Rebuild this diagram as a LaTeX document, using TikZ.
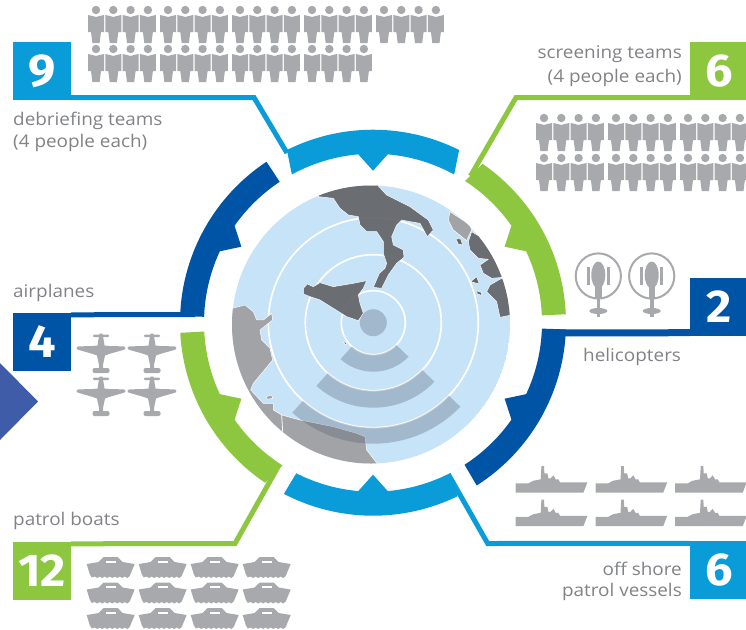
\documentclass[tikz,border=0pt]{standalone}
\usepackage{fontspec}
\setmainfont[FakeStretch=1.08]{Open Sans}
\newfontfamily\numfont[FakeStretch=1.06]{Fira Sans}
\definecolor{lblue}{HTML}{0A9BD9}
\definecolor{dblue}{HTML}{0054A6}
\definecolor{lgreen}{HTML}{8DC63F}
\definecolor{icon}{HTML}{A7A9AC}
\definecolor{txt}{HTML}{808285}
\definecolor{sea}{HTML}{C7E3F7}
\definecolor{landd}{HTML}{646568}
\definecolor{landl}{HTML}{A2A3A6}
\definecolor{rip}{RGB}{76,87,110}
\definecolor{wedge}{HTML}{3F5CA8}
\tikzset{
 numbox/.style={minimum width=58pt,minimum height=58pt,inner sep=0pt,text=white,font=\numfont\bfseries\fontsize{46}{46}\selectfont},
 lbl/.style={inner sep=0pt,text=txt,font=\fontsize{17.5}{20}\selectfont},
 lead/.style={line width=5pt,line join=miter},
 person/.pic={
  \fill[icon] (0,0) circle (4.2);
  \fill[icon] (-8,5)--(-3.5,6)--(0,7)--(3.5,6)--(8,5)--(8,22)--(5,22)--(3.6,33)--(-3.6,33)--(-5,22)--(-8,22)--cycle;
 },
 plane/.pic={
  \fill[icon,rounded corners=1pt] (-8,1.5) rectangle (8,4.2);
  \fill[icon] (-1.5,0.5) -- (1.5,0.5) -- (3,9) -- (3.5,12.5) .. controls (10,13.5) and (18,13) .. (23,13.5) .. controls (25,14) and (25,15.5) .. (23.5,16.5) .. controls (16,19) and (10,20) .. (4,22.5) -- (2,32) -- (2,36) -- (-2,36) -- (-2,32) -- (-4,22.5) .. controls (-10,20) and (-16,19) .. (-23.5,16.5) .. controls (-25,15.5) and (-25,14) .. (-23,13.5) .. controls (-18,13) and (-10,13.5) .. (-3.5,12.5) -- (-3,9) -- cycle;
  \fill[icon,rounded corners=2pt] (-8.5,35) rectangle (8.5,40);
 },
 heli/.pic={
  \draw[icon,line width=2pt] (0,0) circle (22.6);
  \fill[icon] (0,-1) ellipse (7 and 13.5);
  \fill[icon] (-3.2,8) rectangle (3.2,22);
  \fill[icon] (-1.8,20) rectangle (1.8,41);
  \fill[icon] (-11.3,-9) rectangle (-8.3,9);
  \fill[icon] (8.3,-9) rectangle (11.3,9);
  \fill[icon] (0,35) ellipse (9 and 3);
 },
 ship/.pic={
  \fill[icon] (0,17.3)--(0,26.7)--(67.7,26.7)--(71.7,16.3)--(44.3,16.3)--(42.7,13.3)--(40,13.3)--(37.7,9.3)--(35,12.3)--(32.7,12.3)--(31.7,7.3)--(28.7,7.3)--(28.3,0)--(25.7,0)--(25,13.3)--(17.7,14.7)--(12.7,17.3)--cycle;
 },
 boat/.pic={
  \fill[icon] (0,7)--(12,5)--(17,0)--(31,0)--(36,5)--(48,7)--(43,19)--(40.5,21)--(38,19.5)--(35.5,21)--(33,19.5)--(30.5,21)--(28,19.5)--(25.5,21)--(23,19.5)--(20.5,21)--(18,19.5)--(15.5,21)--(13,19.5)--(10.5,21)--(8,19.5)--(5,20.5)--(3,17)--cycle;
  \fill[white] (19,3.5) rectangle (29.5,5.5);
 },
}
% outer start, outer end, inner start, inner end, tooth, colour
\newcommand{\arcseg}[6]{%
 \fill[#6] (#1:193) arc[start angle=#1,end angle=#2,radius=193] -- (#4:169)
  arc[start angle=#4,end angle=#5+5,radius=169] -- (#5:152) -- (#5-5:169)
  arc[start angle=#5-5,end angle=#3,radius=169] -- cycle;}
\newcommand{\ripple}[2]{%
 \fill[rip,fill opacity=.3] (228:#2) arc[start angle=228,end angle=316,radius=#2] -- (316:#1)
  arc[start angle=316,end angle=228,radius=#1] -- cycle;}
\begin{document}
\begin{tikzpicture}[x=1pt,y=-1pt]
\useasboundingbox (0,0) rectangle (746,629);
\fill[wedge] (0,363) -- (38,401.5) -- (0,440) -- cycle;

% globe
\begin{scope}
 \clip (371,324.5) circle (139);
 \fill[sea] (371,324.5) circle (139);
 \foreach \r in {32,68,105} \draw[white,line width=1.7pt] (373.3,322.7) circle (\r);
 \begin{scope}[shift={(220,170)},x=0.3333pt,y=-0.3333pt]
  \begin{scope}[line width=.5pt,line join=round]
  % Italy
  \filldraw[fill=landd,draw=white,fill opacity=.93] (295,80)--(340,85)--(360,115)--(385,135)--(415,140)--(420,165)--(440,185)--(470,185)--(490,215)--(490,250)--(500,280)--(495,295)--(478,310)--(460,352)--(485,355)--(505,315)--(530,280)--(552,262)--(550,240)--(520,225)--(515,200)--(530,165)--(545,150)--(570,155)--(600,160)--(622,200)--(640,180)--(625,150)--(570,110)--(500,75)--(475,48)--(470,20)--(300,20)--cycle;
  % Sicily
  \filldraw[fill=landd,draw=white,fill opacity=.93] (250,355)--(262,342)--(280,350)--(300,338)--(340,350)--(400,340)--(440,332)--(430,355)--(415,375)--(420,400)--(430,430)--(415,452)--(380,440)--(340,415)--(300,390)--(270,380)--(250,372)--cycle;
  % Balkans
  \filldraw[fill=landd,draw=white,fill opacity=.93] (755,185)--(745,215)--(750,240)--(775,265)--(805,268)--(780,285)--(790,310)--(815,325)--(850,322)--(810,345)--(800,365)--(830,395)--(840,442)--(900,430)--(900,300)--(830,230)--cycle;
  \filldraw[fill=landl,draw=white] (690,125)--(685,150)--(700,180)--(740,212)--(755,180)--(750,165)--cycle;
  \filldraw[fill=landd,draw=white] (708,207)--(722,207)--(728,225)--(715,222)--cycle;
  \filldraw[fill=landd,draw=white] (752,335)--(770,320)--(778,342)--cycle;
  \filldraw[fill=landd,draw=white] (770,362)--(785,368)--(785,376)--(772,372)--cycle;
  \filldraw[fill=landd,draw=white] (368,515)--(380,518)--(378,525)--cycle;
  % Africa
  \filldraw[fill=landl,draw=white] (37,415)--(75,405)--(100,425)--(110,450)--(130,450)--(155,430)--(158,450)--(120,480)--(125,510)--(150,535)--(158,570)--(125,610)--(100,640)--(92,660)--(130,700)--(160,700)--(160,720)--(185,735)--(240,750)--(290,760)--(340,770)--(410,790)--(435,800)--(440,840)--(475,885)--(300,920)--(0,720)--(0,415)--cycle;
  \draw[white,line width=.8pt] (185,735)--(188,785);
  \fill[sea] (160,605)--(172,600)--(176,608)--(165,615)--cycle;
  \filldraw[fill=landl,draw=white] (138,680)--(155,675)--(158,685)--(142,688)--cycle;
  \end{scope}
 \end{scope}
 \begin{scope}[shift={(373.3,322.7)},x=1pt,y=1pt]
  \ripple{32}{49}\ripple{68}{85}\ripple{105}{121}
  \fill[rip,fill opacity=.3] (0,0) circle (13.5);
 \end{scope}
\end{scope}

% arcs
\begin{scope}[shift={(373,322.7)},x=1pt,y=1pt]
 \arcseg{63.5}{116.5}{61.3}{118.7}{90}{lblue}
 \arcseg{123.5}{178}{123.5}{178}{150}{dblue}
 \arcseg{2.5}{55.4}{2.5}{57}{30}{lgreen}
 \arcseg{-57.5}{-2}{-57.2}{-2}{-30}{dblue}
 \arcseg{183}{236}{183}{237.6}{210}{lgreen}
 \arcseg{242.5}{296}{243}{297.3}{270}{lblue}
\end{scope}

% boxes
\node[numbox,fill=lblue] (b9) at (42,71) {9};
\node[numbox,fill=lgreen] (b6a) at (719,71) {6};
\node[numbox,fill=dblue] (b4) at (42,341.5) {4};
\node[numbox,fill=dblue] (b2) at (719,307) {2};
\node[numbox,fill=lgreen] (b12) at (42,570.5) {12};
\node[numbox,fill=lblue] (b6b) at (719,570) {6};

% leaders
\coordinate (c9a) at (254,97.5); \coordinate (c9b) at (287,153);
\coordinate (c6a) at (516,97.5); \coordinate (c6b) at (470.5,176);
\coordinate (c4a) at (195,314.5);
\coordinate (c2a) at (545,333);
\coordinate (c12a) at (235,543.5); \coordinate (c12b) at (278.5,466);
\coordinate (c6c) at (487.7,543.5); \coordinate (c6d) at (449,475.5);
\draw[lead,lblue] ([yshift=2.5pt]b9.south east) -- (c9a) -- (c9b);
\draw[lead,lgreen] ([yshift=2.5pt]b6a.south west) -- (c6a) -- (c6b);
\draw[lead,dblue] ([yshift=-2.5pt]b4.north east) -- (c4a);
\draw[line width=7pt,dblue] ([yshift=3.5pt]b2.south west) -- (c2a);
\draw[lead,lgreen] ([yshift=-2.5pt]b12.north east) -- (c12a) -- (c12b);
\draw[lead,lblue] ([yshift=-2.5pt]b6b.north west) -- (c6c) -- (c6d);

% labels
\node[lbl,anchor=base west] (t1) at (13,125) {debriefing teams};
\node[lbl,anchor=base west] (t2) at (13,147) {(4 people each)};
\node[lbl,anchor=base east] (t3) at (682,58) {screening teams};
\node[lbl,anchor=base east] (t4) at (682,82) {(4 people each)};
\node[lbl,anchor=base west] (t5) at (13,297) {airplanes};
\node[lbl,anchor=base west] (t6) at (583,361) {helicopters};
\node[lbl,anchor=base west] (t7) at (13,525) {patrol boats};
\node[lbl,anchor=base east] (t8) at (682,575) {off shore};
\node[lbl,anchor=base east] (t9) at (682,596) {patrol vessels};

% people
\foreach \g in {0,...,4} \foreach \p in {0,...,3}
 \pic at ({96+72*\g+17.3*\p},10) {person};
\foreach \g in {0,...,3} \foreach \p in {0,...,3}
 \pic at ({96+72*\g+17.3*\p},49) {person};
\foreach \r in {118,158} \foreach \g in {0,...,2} \foreach \p in {0,...,3}
 \pic at ({544+72*\g+17.3*\p},\r) {person};
% planes
\foreach \x in {101,152} \foreach \y in {333,376} \pic at (\x,\y) {plane};
% helicopters
\foreach \x in {598.3,651.7} \pic at (\x,276) {heli};
% ships
\foreach \x in {515.7,595.5,675} \foreach \y in {466,499.5} \pic at (\x,\y) {ship};
% boats
\foreach \x in {86.7,138.7,190.7,242.7} \foreach \y in {557,582.5,608} \pic at (\x,\y) {boat};
\end{tikzpicture}
\end{document}
